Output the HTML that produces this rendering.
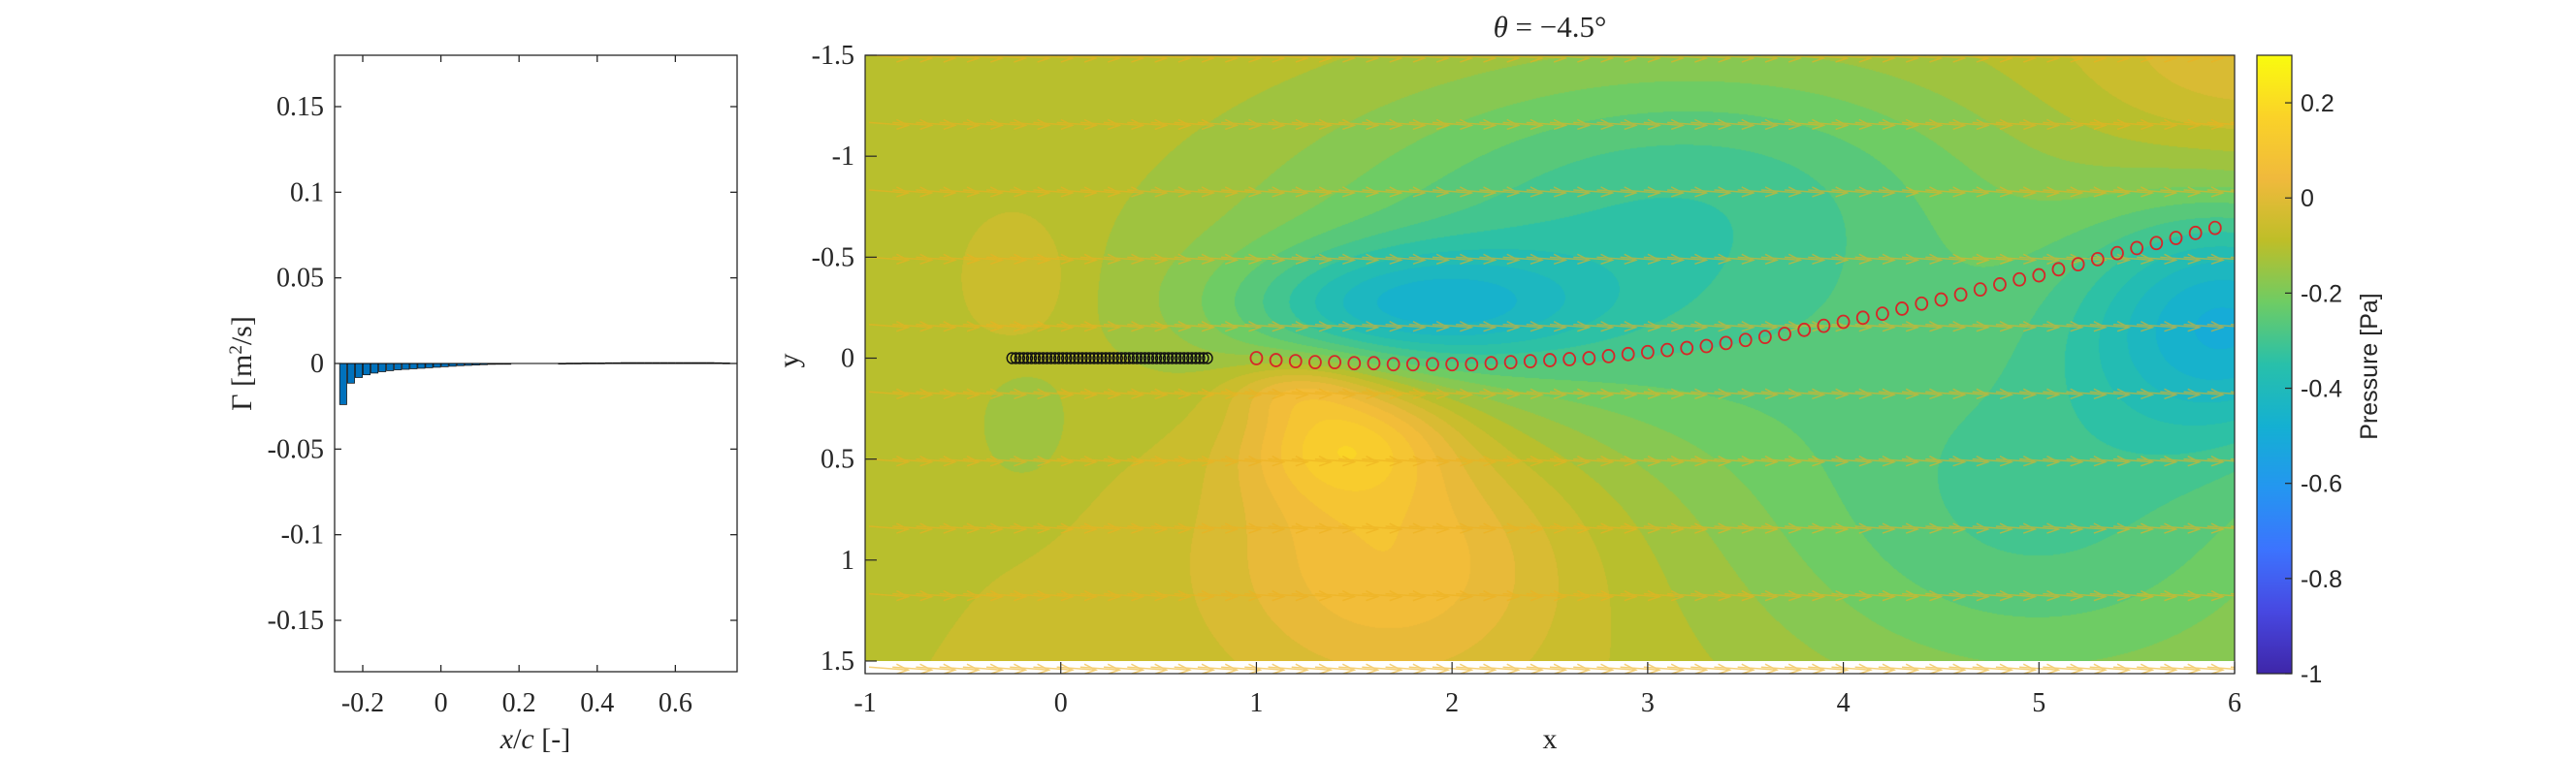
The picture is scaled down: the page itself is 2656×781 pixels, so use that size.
<!DOCTYPE html>
<html><head><meta charset="utf-8">
<style>
html,body{margin:0;padding:0;background:#fff;}
#wrap{position:relative;width:2656px;height:781px;overflow:hidden;background:#fff;}
#field{position:absolute;left:892px;top:57px;}
svg{position:absolute;left:0;top:0;}
.serif{font-family:"Liberation Serif",serif;fill:#262626;}
.sans{font-family:"Liberation Sans",sans-serif;fill:#262626;}
</style></head>
<body>
<div id="wrap">
<canvas id="field" width="1412" height="625"></canvas>
<svg id="svg" width="2656" height="781" xmlns="http://www.w3.org/2000/svg"></svg>
</div>
<script>
// ---------- data ----------
const barX = [];
for (let i = 0; i < 50; i++) barX.push(-0.25 + 0.02 * i);
const barGamma = [-0.024,-0.0115,-0.0082,-0.0066,-0.0056,-0.0048,-0.0042,-0.0037,-0.0034,-0.0031,
 -0.0028,-0.0025,-0.0022,-0.0019,-0.0016,-0.0013,-0.0011,-0.0009,-0.0007,-0.0005,
 -0.0003,-0.0001,0,0,0,0,0,0,0.0001,0.0002,
 0.0002,0.0003,0.0003,0.0003,0.0004,0.0004,0.0005,0.0005,0.0005,0.0005,
 0.0005,0.0005,0.0005,0.0005,0.0005,0.0005,0.0005,0.0005,0.0004,0.0003];
const gammaTicks = [-0.15,-0.1,-0.05,0,0.05,0.1,0.15];
const gammaTickLabels = ["-0.15","-0.1","-0.05","0","0.05","0.1","0.15"];
const xcTicks = [-0.2,0,0.2,0.4,0.6];
const xcTickLabels = ["-0.2","0","0.2","0.4","0.6"];

const wakeX = [];
for (let i = 0; i < 50; i++) wakeX.push(1.0 + 0.1 * i);
const wakeY = [0.00,0.01,0.015,0.02,0.02,0.025,0.025,0.03,0.03,0.03,
 0.03,0.03,0.025,0.02,0.015,0.01,0.005,0.0,-0.01,-0.02,
 -0.03,-0.04,-0.05,-0.06,-0.075,-0.09,-0.105,-0.12,-0.14,-0.16,
 -0.18,-0.2,-0.22,-0.245,-0.27,-0.29,-0.315,-0.34,-0.365,-0.39,
 -0.41,-0.44,-0.465,-0.49,-0.52,-0.545,-0.57,-0.595,-0.62,-0.645];
const plateX = [];
for (let i = 0; i <= 50; i++) plateX.push(-0.25 + 0.02 * i);

const fxTicks = [-1,0,1,2,3,4,5,6];
const fyTicks = [-1.5,-1,-0.5,0,0.5,1,1.5];
const fyTickLabels = ["-1.5","-1","-0.5","0","0.5","1","1.5"];
const cbTicks = [-1,-0.8,-0.6,-0.4,-0.2,0,0.2];
const cbTickLabels = ["-1","-0.8","-0.6","-0.4","-0.2","0","0.2"];

// pressure field model: gaussians [amp, x0, sx, y0, sy]
const pBase = -0.08;
const gAmp = [-0.24,-0.2,-0.34,0.2,0.17,-0.2,0.06,-0.06,0.08,-0.08,0.1];
const gX0  = [1.8,2.8,6.0,1.45,1.7,5.0,-0.2,-0.2,6.0,3.5,1.2];
const gSX  = [0.9,2.0,0.8,0.5,0.9,1.6,0.25,0.25,0.8,1.5,0.35];
const gY0  = [-0.25,-0.45,-0.2,0.4,0.95,0.8,-0.4,0.35,-1.5,-1.0,0.15];
const gSY  = [0.3,0.9,0.6,0.3,0.7,1.0,0.3,0.3,0.5,0.6,0.15];
const arrowRows = [-1.5,-1.167,-0.833,-0.5,-0.167,0.167,0.5,0.833,1.167,1.53];

// ---------- helpers ----------
const NS = "http://www.w3.org/2000/svg";
const svg = document.getElementById("svg");
function mk(tag, attrs, parent) {
  const e = document.createElementNS(NS, tag);
  for (const k in attrs) e.setAttribute(k, attrs[k]);
  (parent || svg).appendChild(e);
  return e;
}
function txt(s, attrs, parent) { const t = mk("text", attrs, parent); t.textContent = s; return t; }

const L = {x0:345, x1:760, y0:57, y1:693, xmin:-0.272, xmax:0.758, ymin:-0.18, ymax:0.18};
const lx = v => L.x0 + (v - L.xmin) / (L.xmax - L.xmin) * (L.x1 - L.x0);
const ly = v => L.y1 - (v - L.ymin) / (L.ymax - L.ymin) * (L.y1 - L.y0);
const R = {x0:892, x1:2304, y0:57, y1:695, xmin:-1, xmax:6, ymin:-1.5, ymax:1.5625};
const rx = v => R.x0 + (v - R.xmin) / (R.xmax - R.xmin) * (R.x1 - R.x0);
const ry = v => R.y0 + (v - R.ymin) / (R.ymax - R.ymin) * (R.y1 - R.y0);
const C = {x0:2327, x1:2363, y0:57, y1:695, vmin:-1, vmax:0.3};
const cy = v => C.y1 - (v - C.vmin) / (C.vmax - C.vmin) * (C.y1 - C.y0);

const cmStops = [[62,38,168],[71,72,225],[60,115,254],[36,150,240],[20,176,210],[40,192,170],[110,204,100],[190,190,40],[240,185,60],[250,210,40],[249,251,14]];
function cmap(t) {
  t = Math.max(0, Math.min(1, t)) * (cmStops.length - 1);
  const i = Math.min(cmStops.length - 2, Math.floor(t)), f = t - i;
  const a = cmStops[i], b = cmStops[i + 1];
  return [a[0] + (b[0]-a[0])*f, a[1] + (b[1]-a[1])*f, a[2] + (b[2]-a[2])*f];
}

// ---------- field ----------
(function(){
  const cv = document.getElementById("field");
  const ctx = cv.getContext("2d");
  const W = cv.width, H = cv.height;
  const img = ctx.createImageData(W, H);
  for (let j = 0; j < H; j++) {
    const y = R.ymin + (j + 0.5) / (ry(1.5) - R.y0) * 3.0;
    for (let i = 0; i < W; i++) {
      const x = R.xmin + (i + 0.5) / W * 7;
      let p = pBase;
      for (let k = 0; k < gAmp.length; k++) {
        const dx = (x - gX0[k]) / gSX[k], dy = (y - gY0[k]) / gSY[k];
        p += gAmp[k] * Math.exp(-dx*dx - dy*dy);
      }
      p = Math.floor(p / 0.04) * 0.04 + 0.02;
      const c = cmap((p - C.vmin) / (C.vmax - C.vmin));
      const o = (j * W + i) * 4;
      const inside = (R.y0 + j) <= ry(1.5);
      img.data[o] = inside ? c[0] : 255; img.data[o+1] = inside ? c[1] : 255; img.data[o+2] = inside ? c[2] : 255; img.data[o+3] = 255;
    }
  }
  ctx.putImageData(img, 0, 0);
})();

// ---------- left chart ----------
const gL = mk("g", {}, svg);


mk("rect", {x:L.x0, y:L.y0, width:L.x1-L.x0, height:L.y1-L.y0, fill:"#fff"}, gL);
for (let i = 0; i < barX.length; i++) {
  const v = barGamma[i];
  if (v === 0) continue;
  const xa = lx(barX[i] - 0.009), xb = lx(barX[i] + 0.009);
  const ya = ly(Math.max(0, v)), yb = ly(Math.min(0, v));
  const b = mk("rect", {x:xa, y:ya, width:xb-xa, height:Math.max(0.8, yb-ya), fill:"#0072BD", stroke:"#1a1a1a", "stroke-width":0.8}, gL);
  
  
}
mk("line", {x1:L.x0, x2:L.x1, y1:ly(0), y2:ly(0), stroke:"#000", "stroke-width":1}, gL);
mk("rect", {x:L.x0, y:L.y0, width:L.x1-L.x0, height:L.y1-L.y0, fill:"none", stroke:"#262626", "stroke-width":1.3}, gL);
gammaTicks.forEach((v, i) => {
  const y = ly(v);
  mk("line", {x1:L.x0, x2:L.x0+7, y1:y, y2:y, stroke:"#262626", "stroke-width":1.3}, gL);
  mk("line", {x1:L.x1, x2:L.x1-7, y1:y, y2:y, stroke:"#262626", "stroke-width":1.3}, gL);
  const t = txt(gammaTickLabels[i], {x:334, y:y+9, "text-anchor":"end", "font-size":28, class:"serif"}, gL);
  
  
});
xcTicks.forEach((v, i) => {
  const x = lx(v);
  mk("line", {x1:x, x2:x, y1:L.y1, y2:L.y1-7, stroke:"#262626", "stroke-width":1.3}, gL);
  mk("line", {x1:x, x2:x, y1:L.y0, y2:L.y0+7, stroke:"#262626", "stroke-width":1.3}, gL);
  const t = txt(xcTickLabels[i], {x:x, y:734, "text-anchor":"middle", "font-size":28, class:"serif"}, gL);
  
  
});
</script>
<script>
(function(){
  const xl = txt("", {x:552, y:772, "text-anchor":"middle", "font-size":30, class:"serif"});
  xl.innerHTML = '<tspan font-style="italic">x</tspan>/<tspan font-style="italic">c</tspan> [-]';
  
  
  const yl = txt("", {x:0, y:0, "text-anchor":"middle", "font-size":30, class:"serif", transform:"translate(259,375) rotate(-90)"});
  yl.innerHTML = 'Γ [m<tspan dy="-10" font-size="19">2</tspan><tspan dy="10">/s]</tspan>';
  
  
})();

// ---------- right chart overlay ----------
const gR = mk("g", {}, svg);


const defs0 = mk("defs", {}, gR);
const cp = mk("clipPath", {id:"plotclip"}, defs0);
mk("rect", {x:R.x0, y:R.y0, width:R.x1-R.x0, height:R.y1-R.y0}, cp);
const gA = mk("g", {stroke:"#EDB120", "stroke-width":1.5, fill:"none", opacity:0.6, "clip-path":"url(#plotclip)"}, gR);


arrowRows.forEach(yv => {
  for (let xv = -0.98; xv < 6; xv += 0.12) {
    const x1 = rx(xv), y1 = ry(yv);
    const x2 = rx(xv + 0.2), y2 = y1 + 3;
    mk("path", {d:`M${x1},${y1} L${x2},${y2} M${x2-12},${y2-6} L${x2},${y2} L${x2-12},${y2+4}`}, gA);
  }
});
const gP = mk("g", {}, gR);


plateX.forEach(v => {
  mk("ellipse", {cx:rx(v), cy:ry(0), rx:5, ry:5.5, fill:"none", stroke:"#111", "stroke-width":1.4}, gP);
});
const gW = mk("g", {}, gR);


wakeX.forEach((v, i) => {
  const c = mk("ellipse", {cx:rx(v), cy:ry(wakeY[i]), rx:6, ry:6.5, fill:"none", stroke:"#D62728", "stroke-width":1.8}, gW);
  
  
});
mk("rect", {x:R.x0, y:R.y0, width:R.x1-R.x0, height:R.y1-R.y0, fill:"none", stroke:"#262626", "stroke-width":1.2}, gR);
fyTicks.forEach((v, i) => {
  const y = ry(v);
  mk("line", {x1:R.x0, x2:R.x0+12, y1:y, y2:y, stroke:"#262626", "stroke-width":1.2}, gR);
  const t = txt(fyTickLabels[i], {x:881, y:y+9, "text-anchor":"end", "font-size":28, class:"serif"}, gR);
  
  
});
fxTicks.forEach(v => {
  const x = rx(v);
  mk("line", {x1:x, x2:x, y1:R.y1, y2:R.y1-12, stroke:"#262626", "stroke-width":1.2}, gR);
  const t = txt(String(v), {x:x, y:734, "text-anchor":"middle", "font-size":28, class:"serif"}, gR);
  
  
});
(function(){
  const xl = txt("x", {x:1598, y:772, "text-anchor":"middle", "font-size":30, class:"serif"});
  
  
  const yl = txt("y", {x:0, y:0, "text-anchor":"middle", "font-size":30, class:"serif", transform:"translate(823,372) rotate(-90)"});
  
  
  const tt = txt("", {x:1598, y:38, "text-anchor":"middle", "font-size":31, class:"serif"});
  tt.innerHTML = '<tspan font-style="italic">θ</tspan> = −4.5°';
  
  
})();

// ---------- colorbar ----------
(function(){
  const g = mk("g", {});
  
  
  const defs = mk("defs", {}, g);
  const lg = mk("linearGradient", {id:"cbg", x1:0, y1:1, x2:0, y2:0}, defs);
  for (let k = 0; k <= 20; k++) {
    const c = cmap(k / 20);
    mk("stop", {offset:(k/20), "stop-color":`rgb(${c.map(Math.round).join(",")})`}, lg);
  }
  mk("rect", {x:C.x0, y:C.y0, width:C.x1-C.x0, height:C.y1-C.y0, fill:"url(#cbg)", stroke:"#262626", "stroke-width":1.2}, g);
  cbTicks.forEach((v, i) => {
    const y = cy(v);
    mk("line", {x1:C.x1, x2:C.x1-7, y1:y, y2:y, stroke:"#262626", "stroke-width":1.2}, g);
    const t = txt(cbTickLabels[i], {x:2372, y:y+9, "font-size":25, class:"sans"}, g);
    
    
  });
  const lab = txt("Pressure [Pa]", {x:0, y:0, "text-anchor":"middle", "font-size":25, class:"sans", transform:"translate(2451,378) rotate(-90)"}, g);
  
  
})();
</script>
</body></html>
